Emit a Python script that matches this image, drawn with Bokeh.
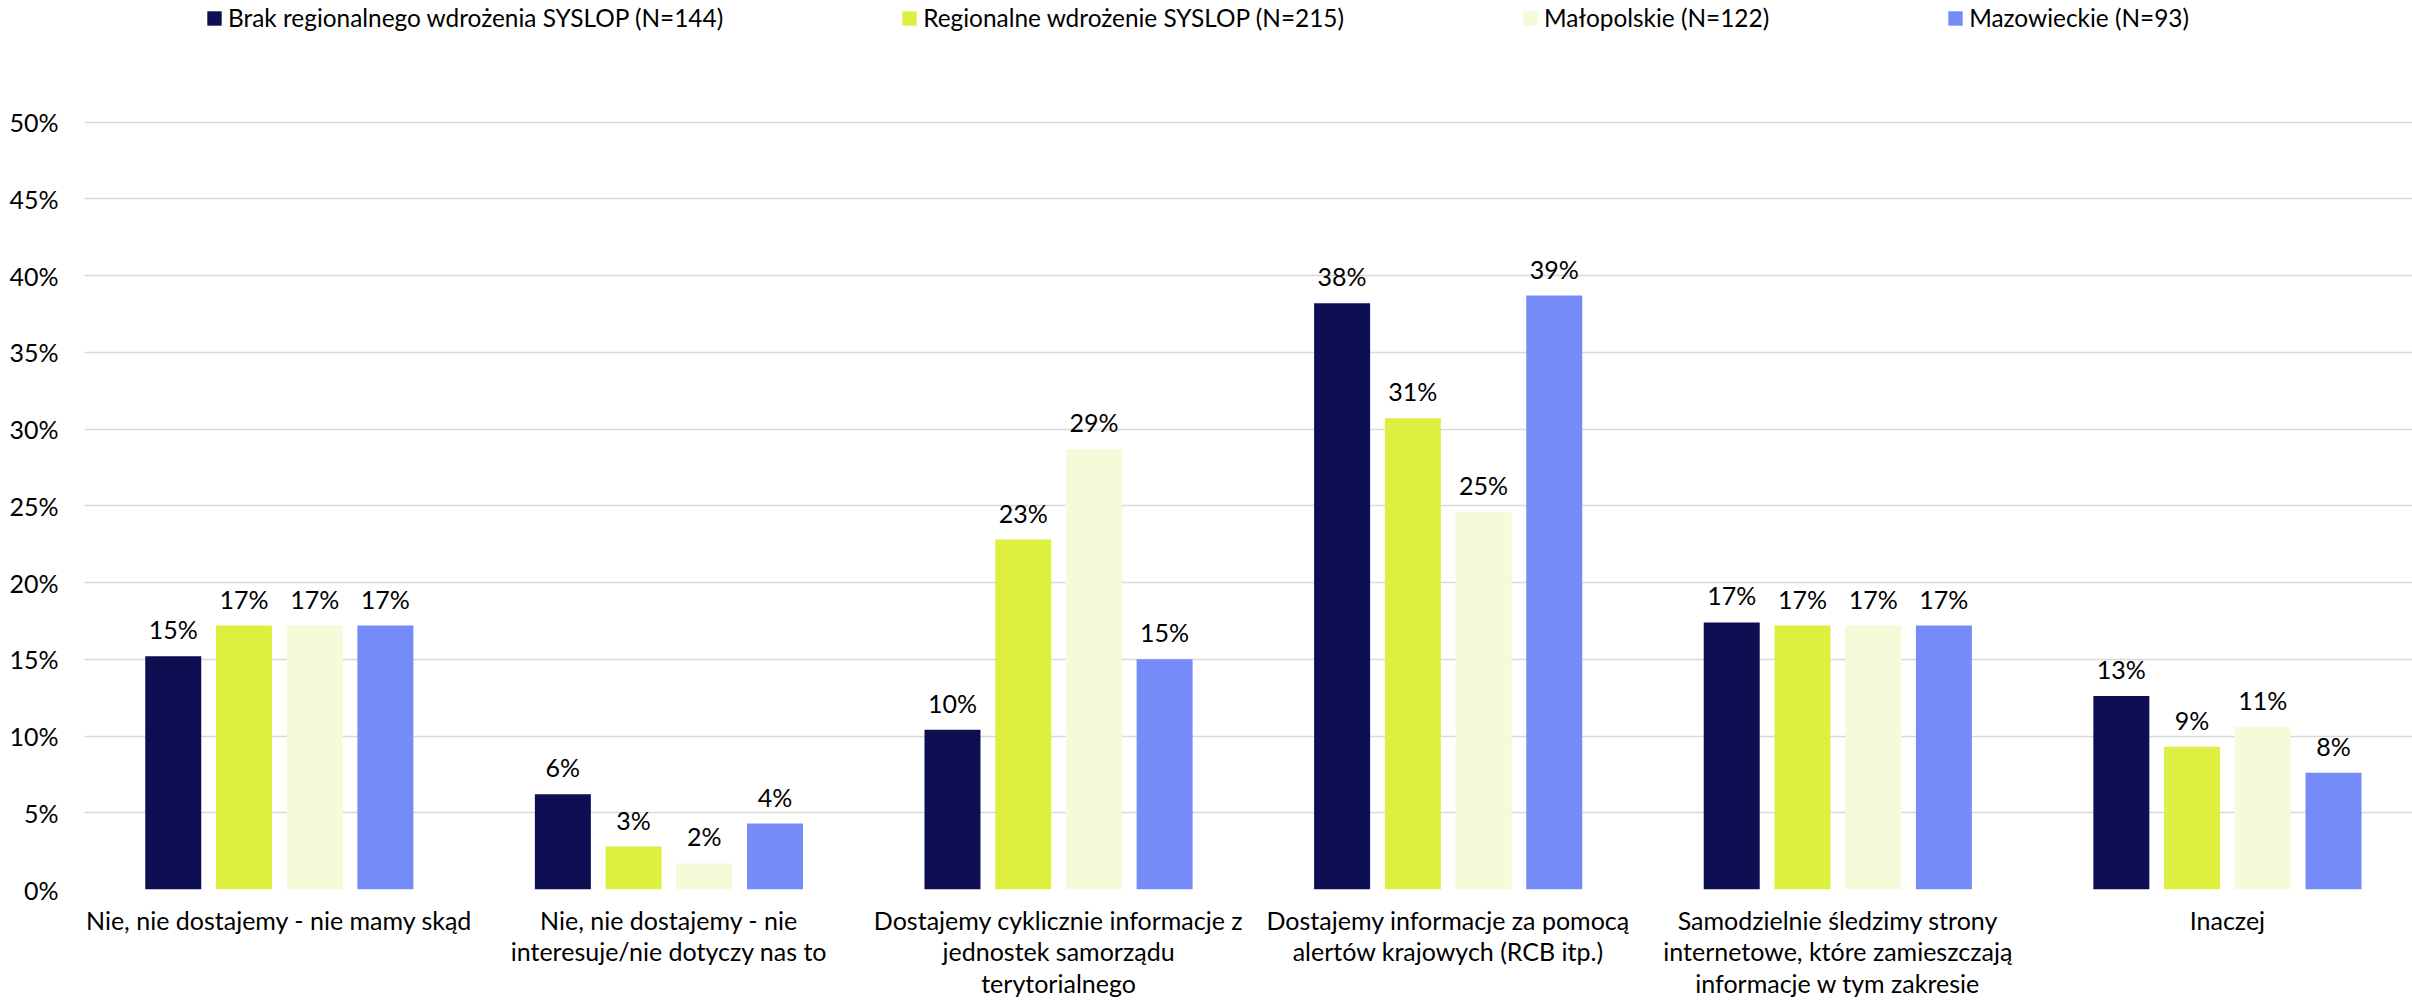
from bokeh.plotting import figure
from bokeh.models import (Range1d, FixedTicker, NumeralTickFormatter, Legend, LegendItem,
                          ColumnDataSource)
from bokeh.core.properties import value
from bokeh.embed import file_html
from bokeh.resources import INLINE

categories = [
    "Nie, nie dostajemy - nie mamy skąd",
    "Nie, nie dostajemy - nie\ninteresuje/nie dotyczy nas to",
    "Dostajemy cyklicznie informacje z\njednostek samorządu\nterytorialnego",
    "Dostajemy informacje za pomocą\nalertów krajowych (RCB itp.)",
    "Samodzielnie śledzimy strony\ninternetowe, które zamieszczają\ninformacje w tym zakresie",
    "Inaczej",
]
series_names = [
    "Brak regionalnego wdrożenia SYSLOP (N=144)",
    "Regionalne wdrożenie SYSLOP (N=215)",
    "Małopolskie (N=122)",
    "Mazowieckie (N=93)",
]
brak = [0.152, 0.062, 0.104, 0.382, 0.174, 0.126]
regionalne = [0.172, 0.028, 0.228, 0.307, 0.172, 0.093]
malopolskie = [0.172, 0.017, 0.287, 0.246, 0.172, 0.106]
mazowieckie = [0.172, 0.043, 0.150, 0.387, 0.172, 0.076]
y_ticks = [0, 0.05, 0.10, 0.15, 0.20, 0.25, 0.30, 0.35, 0.40, 0.45, 0.50]

series = [brak, regionalne, malopolskie, mazowieckie]
colors = ["#0D0F52", "#DDF040", "#F5FAD8", "#758BF8"]

FONT = "Lato"
FS = "25px"
TXT = "#000000"

# frame runs from the top of the canvas; only ticks up to 50% are drawn
p = figure(width=2412, height=1002, output_backend="svg", toolbar_location=None,
           x_range=Range1d(0, 5.975), y_range=Range1d(0, 0.5792),
           min_border_left=84, min_border_right=0, min_border_top=0, min_border_bottom=113)
p.outline_line_color = None
p.background_fill_color = "white"
p.border_fill_color = "white"

pitch = 0.1815
width = 0.1437
renderers = []
for i, (vals, col) in enumerate(zip(series, colors)):
    xs = [k + 0.5 + (i - 1.5) * pitch for k in range(len(categories))]
    labels = [f"{int(v * 100 + 0.5)}%" for v in vals]
    src = ColumnDataSource(dict(x=xs, top=vals, lab=labels))
    r = p.vbar(x="x", top="top", width=width, bottom=0, source=src,
               fill_color=col, line_color=None)
    renderers.append(r)
    p.text(x="x", y="top", text="lab", source=src, text_align="center",
           text_baseline="bottom", y_offset=-12, text_font=value(FONT),
           text_font_size=FS, text_color=TXT)

# axes
p.xaxis.ticker = FixedTicker(ticks=[k + 0.5 for k in range(len(categories))])
p.xaxis.major_label_overrides = {k + 0.5: c for k, c in enumerate(categories)}
p.xaxis.axis_line_color = None
p.xaxis.major_tick_line_color = None
p.xaxis.minor_tick_line_color = None
p.xaxis.major_tick_in = 0
p.xaxis.major_tick_out = 0
p.xaxis.major_label_standoff = 15
p.xaxis.major_label_text_font = FONT
p.xaxis.major_label_text_font_size = FS
p.xaxis.major_label_text_color = TXT
p.xaxis.major_label_text_line_height = 1.05

p.yaxis.ticker = FixedTicker(ticks=y_ticks)
p.yaxis.formatter = NumeralTickFormatter(format="0%")
p.yaxis.axis_line_color = None
p.yaxis.major_tick_line_color = None
p.yaxis.minor_tick_line_color = None
p.yaxis.major_tick_in = 0
p.yaxis.major_tick_out = 0
p.yaxis.major_label_standoff = 26
p.yaxis.major_label_text_font = FONT
p.yaxis.major_label_text_font_size = FS
p.yaxis.major_label_text_color = TXT

p.xgrid.grid_line_color = None
p.ygrid.grid_line_color = "#D9D9D9"
p.ygrid.grid_line_width = 1.5

legend = Legend(items=[LegendItem(label=n, renderers=[r]) for n, r in zip(series_names, renderers)],
                orientation="horizontal", location=(121, 857), padding=0, margin=0,
                spacing=177, glyph_width=18, glyph_height=18, label_standoff=5,
                label_text_font=FONT, label_text_font_size="24.4px", label_text_color=TXT,
                border_line_color=None, background_fill_alpha=0)
p.add_layout(legend, "center")

open("out.html", "w").write(file_html(p, INLINE))
